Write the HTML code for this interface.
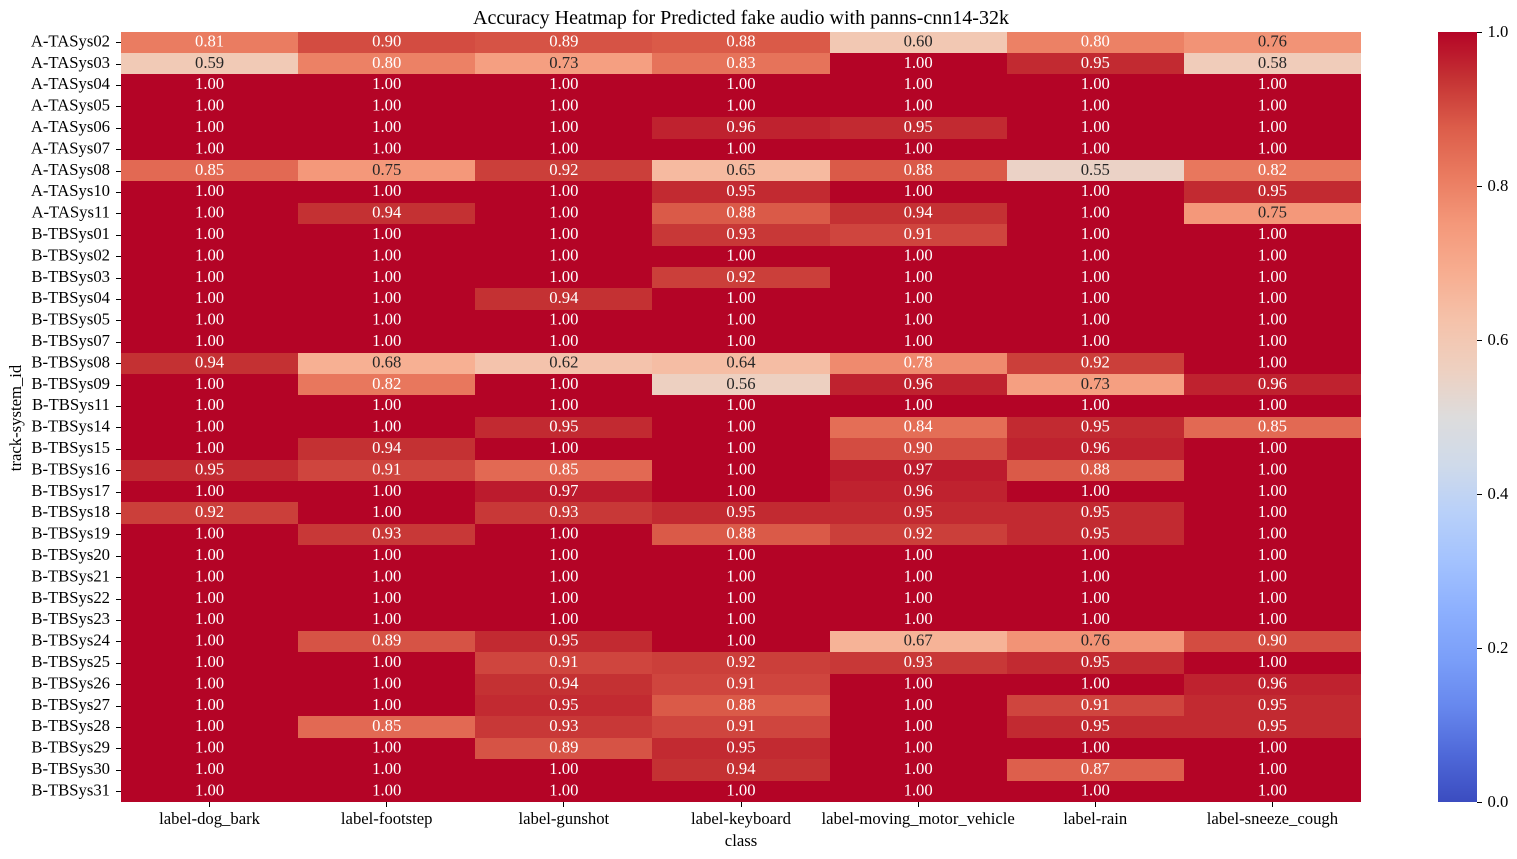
<!DOCTYPE html>
<html lang="en">
<head>
<meta charset="utf-8">
<title>Accuracy Heatmap</title>
<style>
html,body{margin:0;padding:0;background:#fff;}
svg{display:block;font-family:"Liberation Serif","Times New Roman",serif;}
text{fill:#000;font-size:16.67px;}
</style>
</head>
<body>
<svg id="chart" xmlns="http://www.w3.org/2000/svg" width="1517" height="859" viewBox="0 0 1517 859">
  <rect width="1517" height="859" fill="#fff"/>
  <text x="741" y="24" text-anchor="middle" style="font-size:20px">Accuracy Heatmap for Predicted fake audio with panns-cnn14-32k</text>
  <g id="cells" shape-rendering="crispEdges"></g>
  <g id="annotations"></g>
  <g id="y-axis"></g>
  <g id="x-axis"></g>
  <text x="741" y="846" text-anchor="middle">class</text>
  <text transform="translate(21,418) rotate(-90)" text-anchor="middle">track-system_id</text>
  <g id="colorbar"></g>
</svg>
<script>
const systems = ["A-TASys02","A-TASys03","A-TASys04","A-TASys05","A-TASys06","A-TASys07","A-TASys08","A-TASys10","A-TASys11","B-TBSys01","B-TBSys02","B-TBSys03","B-TBSys04","B-TBSys05","B-TBSys07","B-TBSys08","B-TBSys09","B-TBSys11","B-TBSys14","B-TBSys15","B-TBSys16","B-TBSys17","B-TBSys18","B-TBSys19","B-TBSys20","B-TBSys21","B-TBSys22","B-TBSys23","B-TBSys24","B-TBSys25","B-TBSys26","B-TBSys27","B-TBSys28","B-TBSys29","B-TBSys30","B-TBSys31"];
const classes = ["label-dog_bark","label-footstep","label-gunshot","label-keyboard","label-moving_motor_vehicle","label-rain","label-sneeze_cough"];
const accuracy = [
  [0.81,0.90,0.89,0.88,0.60,0.80,0.76],
  [0.59,0.80,0.73,0.83,1.00,0.95,0.58],
  [1.00,1.00,1.00,1.00,1.00,1.00,1.00],
  [1.00,1.00,1.00,1.00,1.00,1.00,1.00],
  [1.00,1.00,1.00,0.96,0.95,1.00,1.00],
  [1.00,1.00,1.00,1.00,1.00,1.00,1.00],
  [0.85,0.75,0.92,0.65,0.88,0.55,0.82],
  [1.00,1.00,1.00,0.95,1.00,1.00,0.95],
  [1.00,0.94,1.00,0.88,0.94,1.00,0.75],
  [1.00,1.00,1.00,0.93,0.91,1.00,1.00],
  [1.00,1.00,1.00,1.00,1.00,1.00,1.00],
  [1.00,1.00,1.00,0.92,1.00,1.00,1.00],
  [1.00,1.00,0.94,1.00,1.00,1.00,1.00],
  [1.00,1.00,1.00,1.00,1.00,1.00,1.00],
  [1.00,1.00,1.00,1.00,1.00,1.00,1.00],
  [0.94,0.68,0.62,0.64,0.78,0.92,1.00],
  [1.00,0.82,1.00,0.56,0.96,0.73,0.96],
  [1.00,1.00,1.00,1.00,1.00,1.00,1.00],
  [1.00,1.00,0.95,1.00,0.84,0.95,0.85],
  [1.00,0.94,1.00,1.00,0.90,0.96,1.00],
  [0.95,0.91,0.85,1.00,0.97,0.88,1.00],
  [1.00,1.00,0.97,1.00,0.96,1.00,1.00],
  [0.92,1.00,0.93,0.95,0.95,0.95,1.00],
  [1.00,0.93,1.00,0.88,0.92,0.95,1.00],
  [1.00,1.00,1.00,1.00,1.00,1.00,1.00],
  [1.00,1.00,1.00,1.00,1.00,1.00,1.00],
  [1.00,1.00,1.00,1.00,1.00,1.00,1.00],
  [1.00,1.00,1.00,1.00,1.00,1.00,1.00],
  [1.00,0.89,0.95,1.00,0.67,0.76,0.90],
  [1.00,1.00,0.91,0.92,0.93,0.95,1.00],
  [1.00,1.00,0.94,0.91,1.00,1.00,0.96],
  [1.00,1.00,0.95,0.88,1.00,0.91,0.95],
  [1.00,0.85,0.93,0.91,1.00,0.95,0.95],
  [1.00,1.00,0.89,0.95,1.00,1.00,1.00],
  [1.00,1.00,1.00,0.94,1.00,0.87,1.00],
  [1.00,1.00,1.00,1.00,1.00,1.00,1.00]
];
const colorbarTicks = [0.0,0.2,0.4,0.6,0.8,1.0];
const coolwarmRamp = ["#3b4cc0","#4f69d9","#6788ee","#7b9ff9","#8db0fe","#a3c2fe","#b8d0f9","#cfdaea","#dddcdc","#eed0c0","#f5c2aa","#f7ad90","#f4987a","#ea7b60","#dc5d4a","#c53334","#b40426"];

const SVG_NS = "http://www.w3.org/2000/svg";
const plotLeft = 121, plotRight = 1361, plotTop = 31.6, plotBottom = 802;
const barLeft = 1438, barRight = 1477;

function xScale(i) { return plotLeft + (plotRight - plotLeft) * i / classes.length; }
function yScale(i) { return plotTop + (plotBottom - plotTop) * i / systems.length; }
function barScale(v) { return plotBottom - (plotBottom - plotTop) * v; }

function hexToRgb(h) {
  return [parseInt(h.slice(1,3),16), parseInt(h.slice(3,5),16), parseInt(h.slice(5,7),16)];
}
function coolwarm(v) {
  const p = Math.max(0, Math.min(1, v)) * (coolwarmRamp.length - 1);
  const i = Math.min(Math.floor(p), coolwarmRamp.length - 2);
  const f = p - i;
  const a = hexToRgb(coolwarmRamp[i]), b = hexToRgb(coolwarmRamp[i + 1]);
  return [0,1,2].map(k => Math.round(a[k] + (b[k] - a[k]) * f));
}
function luminance(rgb) {
  const l = rgb.map(c => {
    const s = c / 255;
    return s <= 0.03928 ? s / 12.92 : Math.pow((s + 0.055) / 1.055, 2.4);
  });
  return 0.2126 * l[0] + 0.7152 * l[1] + 0.0722 * l[2];
}
function make(tag, attrs, text) {
  const el = document.createElementNS(SVG_NS, tag);
  for (const k in attrs) el.setAttribute(k, attrs[k]);
  if (text !== undefined) el.textContent = text;
  return el;
}

const cellsG = document.getElementById("cells");
const annotG = document.getElementById("annotations");
const yG = document.getElementById("y-axis");
const xG = document.getElementById("x-axis");
const barG = document.getElementById("colorbar");

accuracy.forEach((row, r) => {
  row.forEach((v, c) => {
    const rgb = coolwarm(v);
    const x0 = Math.round(xScale(c)), x1 = Math.round(xScale(c + 1));
    const y0 = Math.round(yScale(r)), y1 = Math.round(yScale(r + 1));
    const cell = make("rect", {x:x0, y:y0, width:x1 - x0, height:y1 - y0, fill:"rgb(" + rgb.join(",") + ")"});
    
    
    cellsG.appendChild(cell);
    const label = make("text", {
      x:(xScale(c) + xScale(c + 1)) / 2,
      y:(yScale(r) + yScale(r + 1)) / 2 + 4.05,
      "text-anchor":"middle",
      style:"fill:" + (luminance(rgb) > 0.408 ? "#262626" : "#ffffff")
    }, v.toFixed(2));
    
    
    annotG.appendChild(label);
  });
});

systems.forEach((name, r) => {
  const cy = (yScale(r) + yScale(r + 1)) / 2;
  const tickY = Math.round(cy - 0.01) + 0.5;
  const tick = make("line", {x1:116, x2:plotLeft, y1:tickY, y2:tickY, stroke:"#000", "stroke-width":1});
  
  
  yG.appendChild(tick);
  const label = make("text", {x:110, y:cy + 4.05, "text-anchor":"end"}, name);
  
  
  yG.appendChild(label);
});

classes.forEach((name, c) => {
  const cx = (xScale(c) + xScale(c + 1)) / 2;
  const tick = make("line", {x1:Math.floor(cx) + 0.5, x2:Math.floor(cx) + 0.5, y1:plotBottom, y2:plotBottom + 5, stroke:"#000", "stroke-width":1});
  
  
  xG.appendChild(tick);
  const label = make("text", {x:cx, y:824, "text-anchor":"middle"}, name);
  
  
  xG.appendChild(label);
});

for (let py = Math.round(plotTop); py < plotBottom; py++) {
  const v = (plotBottom - py - 0.5) / (plotBottom - plotTop);
  const band = make("rect", {x:barLeft, y:py, width:barRight - barLeft, height:1, fill:"rgb(" + coolwarm(v).join(",") + ")", "shape-rendering":"crispEdges"});
  
  
  barG.appendChild(band);
}
colorbarTicks.forEach(v => {
  const py = Math.round(barScale(v));
  const tick = make("line", {x1:barRight, x2:barRight + 5, y1:py + 0.5, y2:py + 0.5, stroke:"#000", "stroke-width":1});
  
  
  barG.appendChild(tick);
  const label = make("text", {x:1487.5, y:py + 5}, v.toFixed(1));
  
  
  barG.appendChild(label);
});
</script>
</body>
</html>
